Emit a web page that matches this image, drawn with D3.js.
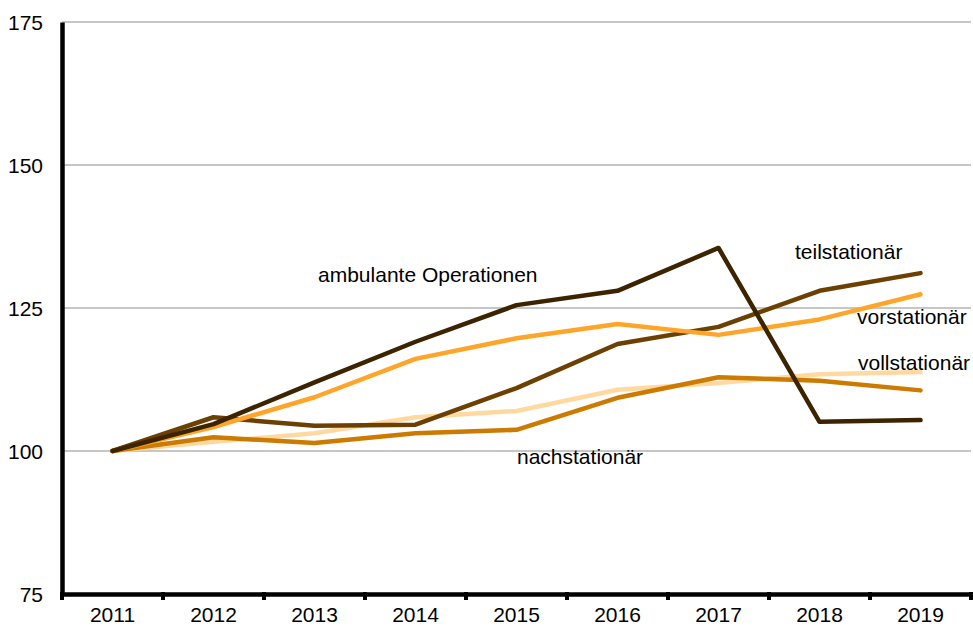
<!DOCTYPE html>
<html><head><meta charset="utf-8">
<script src="https://cdn.jsdelivr.net/npm/d3@7/dist/d3.min.js"></script>
<style>body{margin:0;background:#fff}svg{display:block}text{font-family:"Liberation Sans",Arial,sans-serif;fill:#000}</style>
</head><body><svg id="c" width="973" height="627"></svg>
<script>
const years = ["2011","2012","2013","2014","2015","2016","2017","2018","2019"];
const yTicks = [75,100,125,150,175];
const ambulante = [100,104.7,112,119.1,125.5,128.0,135.5,105.1,105.4];
const teilstationaer = [100,105.9,104.4,104.6,111.0,118.7,121.7,128.0,131.1];
const vorstationaer = [100,104.2,109.4,116.1,119.7,122.2,120.3,123.0,127.4];
const nachstationaer = [100,102.4,101.4,103.1,103.7,109.3,112.9,112.3,110.6];
const vollstationaer = [100,101.6,103.1,105.9,107.0,110.7,111.9,113.4,113.8];
const seriesNames = ["vollstationär","nachstationär","teilstationär","vorstationär","ambulante Operationen"];
const seriesValues = [vollstationaer,nachstationaer,teilstationaer,vorstationaer,ambulante];
const seriesColors = ["#ffd9a0","#cc7a00","#6b4000","#ffa52a","#3d2400"];
const labels = [
  {name:"ambulante Operationen", x:318, y:282},
  {name:"teilstationär", x:795, y:259},
  {name:"vorstationär", x:857, y:324},
  {name:"vollstationär", x:858, y:370},
  {name:"nachstationär", x:517, y:464}
];

const svg = d3.select("#c");
const x = d3.scaleBand().domain(years).range([62,971]);
const y = d3.scaleLinear().domain([75,175]).range([594,22]);

// gridlines
svg.append("g").selectAll("line").data(yTicks.filter(t=>t>75)).join("line")
  .attr("x1",62).attr("x2",971).attr("y1",d=>y(d)).attr("y2",d=>y(d))
  .attr("stroke","#b3b3b3").attr("stroke-width",1.3);

// y axis
const ya = svg.append("g").attr("transform","translate(62,0)")
  .call(d3.axisLeft(y).tickValues(yTicks).tickSize(0).tickPadding(19));
ya.select(".domain").attr("stroke","#000").attr("stroke-width",4.5);
ya.selectAll("text").attr("font-size","21px").attr("font-family","Liberation Sans, Arial, sans-serif").attr("dy","0.35em");

// x axis
const xa = svg.append("g").attr("transform","translate(0,594)")
  .call(d3.axisBottom(x).tickSize(0).tickPadding(13));
xa.select(".domain").attr("stroke","#000").attr("stroke-width",4.5);
xa.selectAll("text").attr("font-size","21px").attr("font-family","Liberation Sans, Arial, sans-serif");
svg.append("g").selectAll("line").data(years.concat(["end"])).join("line")
  .attr("x1",(d,i)=>62+i*x.bandwidth()).attr("x2",(d,i)=>62+i*x.bandwidth())
  .attr("y1",592).attr("y2",600).attr("stroke","#000").attr("stroke-width",4);

// lines
const line = d3.line().x((d,i)=>x(years[i])+x.bandwidth()/2).y(d=>y(d));
svg.append("g").selectAll("path").data(seriesValues).join("path")
  .attr("d",d=>line(d)).attr("fill","none")
  .attr("stroke",(d,i)=>seriesColors[i]).attr("stroke-width",4.5)
  .attr("stroke-linejoin","round").attr("stroke-linecap","round");

// labels
svg.append("g").selectAll("text").data(labels).join("text")
  .attr("x",d=>d.x).attr("y",d=>d.y).attr("font-size","21px").text(d=>d.name);
</script></body></html>
